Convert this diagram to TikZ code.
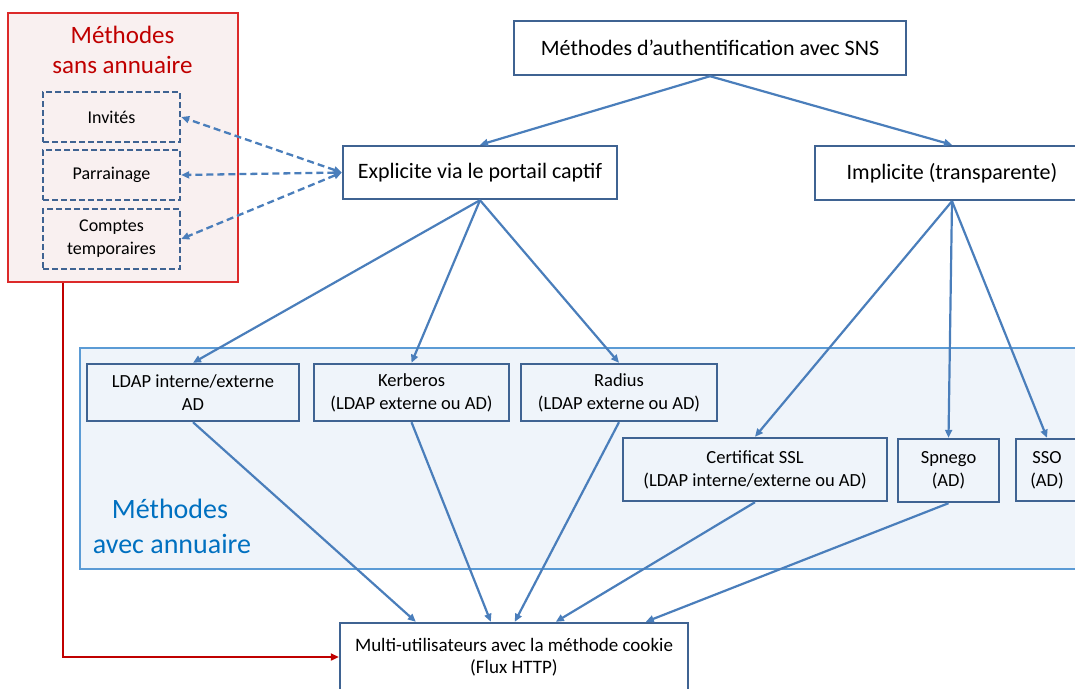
\documentclass[tikz,border=0pt]{standalone}
\usepackage{fontspec}
\setmainfont{Carlito}
\usetikzlibrary{arrows.meta,calc}
\definecolor{boxblue}{HTML}{3F6392}
\definecolor{arrowblue}{HTML}{4A7EBB}
\definecolor{regionfill}{HTML}{EFF4FA}
\definecolor{regionline}{HTML}{5B9BD5}
\definecolor{redfill}{HTML}{F9F0F0}
\definecolor{redline}{HTML}{DC2A2A}
\definecolor{redtext}{HTML}{C00000}
\definecolor{bluetext}{HTML}{0070C0}
\begin{document}
\begin{tikzpicture}[x=1pt,y=-1pt,
  bigbox/.style={draw=boxblue, line width=2.4pt, inner sep=0pt, align=center, font=\fontsize{22}{26}\selectfont},
  smallbox/.style={draw=boxblue, line width=2.4pt, inner sep=0pt, align=center, font=\fontsize{18.5}{23}\selectfont},
  dashbox/.style={draw=boxblue, line width=2.4pt, dash pattern=on 6pt off 3pt, inner sep=0pt, align=center, font=\fontsize{18}{23}\selectfont},
  conn/.style={draw=arrowblue, line width=2.2pt, -{Triangle[length=8pt,width=7pt]}},
  dconn/.style={draw=arrowblue, line width=2.3pt, dash pattern=on 7pt off 4pt, {Triangle[length=8pt,width=7pt]}-{Triangle[length=8pt,width=7pt]}},
  redconn/.style={draw=redtext, line width=2.2pt, -{Triangle[length=8pt,width=7pt]}},
  region/.style={draw=regionline, line width=1.5pt, fill=regionfill, inner sep=0pt},
  redregion/.style={draw=redline, line width=1.5pt, fill=redfill, inner sep=0pt},
  redtitle/.style={text=redtext, font=\fontsize{25}{30}\selectfont, anchor=base, inner sep=0pt},
  bluetitle/.style={text=bluetext, font=\fontsize{28}{34}\selectfont, anchor=base, inner sep=0pt}
]
\path[use as bounding box] (0,0) rectangle (1075,688);
\clip (0,0) rectangle (1075,688);

% background regions
\node[region, minimum width=1010, minimum height=221] (annuaire) at (585,458.5) {};
\node[redregion, minimum width=230, minimum height=269] (redbox) at (123,147.5) {};

\node[redtitle] (rt1) at (122.5,43) {Méthodes};
\node[redtitle] (rt2) at (122.5,73) {sans annuaire};
\node[bluetitle] (bt1) at (170,518) {Méthodes};
\node[bluetitle] (bt2) at (172,553) {avec annuaire};

% dashed boxes
\node[dashbox, minimum width=137, minimum height=50] (invites) at (111.5,117) {Invités};
\node[dashbox, minimum width=137, minimum height=50] (parrain) at (111.5,175) {Parrainage};
\node[dashbox, minimum width=137, minimum height=60] (comptes) at (111.5,239) {Comptes\\temporaires};

% main boxes
\node[bigbox, minimum width=392, minimum height=54] (top) at (710,48) {Méthodes d’authentification avec SNS};
\node[bigbox, minimum width=274, minimum height=53] (expl) at (480,172.5) {Explicite via le portail captif};
\node[bigbox, minimum width=274, minimum height=54] (impl) at (952,173) {Implicite (transparente)};

\node[smallbox, minimum width=212, minimum height=57] (ldap) at (193,392.5) {LDAP interne/externe\\AD};
\node[smallbox, minimum width=195, minimum height=57] (kerb) at (411.5,392.5) {Kerberos\\(LDAP externe ou AD)};
\node[smallbox, minimum width=196, minimum height=57] (radius) at (619,392.5) {Radius\\(LDAP externe ou AD)};
\node[smallbox, minimum width=264, minimum height=63] (ssl) at (755,469.5) {Certificat SSL\\(LDAP interne/externe ou AD)};
\node[smallbox, minimum width=101, minimum height=63] (spnego) at (948.5,470.5) {Spnego\\(AD)};
\node[smallbox, minimum width=62, minimum height=62] (sso) at (1047,470) {SSO\\(AD)};

\node[smallbox, font=\fontsize{19}{22}\selectfont, minimum width=348, minimum height=68] (multi) at (514,657) {Multi-utilisateurs avec la méthode cookie\\(Flux HTTP)};

% connectors
\draw[conn] (top.south) -- (expl.north);
\draw[conn] (top.south) -- (impl.north);
\draw[conn] (expl.south) -- (ldap.north);
\draw[conn] (expl.south) -- (kerb.north);
\draw[conn] (expl.south) -- (radius.north);
\draw[conn] (impl.south) -- (ssl.north);
\draw[conn] (impl.south) -- (spnego.north);
\draw[conn] (impl.south) -- (sso.north);

\draw[dconn] (expl.west) -- (invites.east);
\draw[dconn] (expl.west) -- (parrain.east);
\draw[dconn] (expl.west) -- (comptes.east);

\draw[conn] (ldap.south) -- ($(multi.north west)+(77,0)$);
\draw[conn] (kerb.south) -- ($(multi.north west)+(152,0)$);
\draw[conn] (radius.south) -- ($(multi.north west)+(176,0)$);
\draw[conn] (ssl.south) -- ($(multi.north west)+(217,0)$);
\draw[conn] (spnego.south) -- ($(multi.north west)+(307,0)$);

\draw[redconn] ($(redbox.south west)+(56,0)$) |- (multi.west);
\end{tikzpicture}
\end{document}
